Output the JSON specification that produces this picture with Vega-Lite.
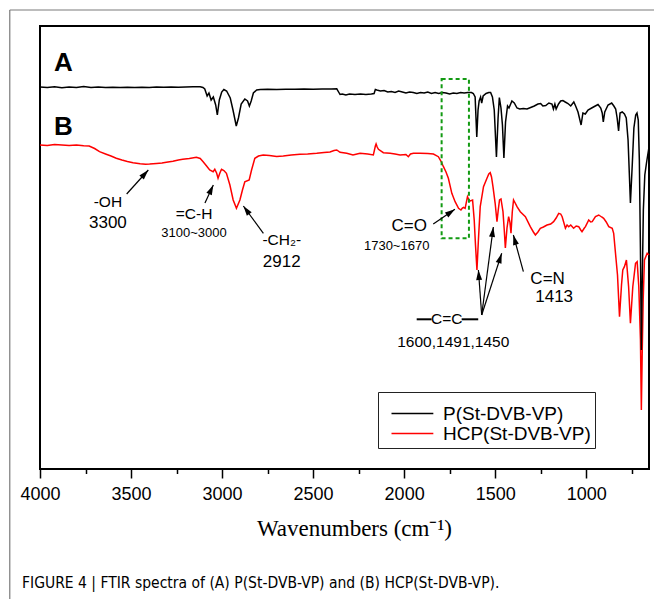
{
  "$schema": "https://vega.github.io/schema/vega-lite/v6.json",
  "width": 609,
  "height": 443,
  "autosize": {"type": "none"},
  "padding": {"left": 40, "top": 26, "right": 5, "bottom": 130},
  "config": {
    "view": {"stroke": "black", "strokeWidth": 2},
    "font": "Liberation Sans",
    "text": {"font": "Liberation Sans", "color": "black"}
  },
  "title": {
    "text": "FIGURE 4 | FTIR spectra of (A) P(St-DVB-VP) and (B) HCP(St-DVB-VP).",
    "orient": "bottom",
    "anchor": "start",
    "frame": "group",
    "offset": -24,
    "dx": -18,
    "font": "Liberation Sans Narrow, DejaVu Sans Condensed, sans-serif",
    "fontSize": 15.5,
    "fontWeight": "normal",
    "color": "black"
  },
  "datasets": {
    "spectra": [
      {"series":"HCP(St-DVB-VP)","wn":4000,"t":145},{"series":"HCP(St-DVB-VP)","wn":3960,"t":145.5},{"series":"HCP(St-DVB-VP)","wn":3920,"t":144.5},{"series":"HCP(St-DVB-VP)","wn":3880,"t":145},{"series":"HCP(St-DVB-VP)","wn":3840,"t":145.5},{"series":"HCP(St-DVB-VP)","wn":3800,"t":145},{"series":"HCP(St-DVB-VP)","wn":3760,"t":145.8},{"series":"HCP(St-DVB-VP)","wn":3730,"t":146},{"series":"HCP(St-DVB-VP)","wn":3700,"t":148.5},{"series":"HCP(St-DVB-VP)","wn":3673,"t":151.7},{"series":"HCP(St-DVB-VP)","wn":3640,"t":154},{"series":"HCP(St-DVB-VP)","wn":3610,"t":156},{"series":"HCP(St-DVB-VP)","wn":3581,"t":158.3},{"series":"HCP(St-DVB-VP)","wn":3550,"t":160},{"series":"HCP(St-DVB-VP)","wn":3520,"t":161.5},{"series":"HCP(St-DVB-VP)","wn":3489,"t":162.7},{"series":"HCP(St-DVB-VP)","wn":3450,"t":163.8},{"series":"HCP(St-DVB-VP)","wn":3420,"t":164.2},{"series":"HCP(St-DVB-VP)","wn":3398,"t":164},{"series":"HCP(St-DVB-VP)","wn":3360,"t":163.5},{"series":"HCP(St-DVB-VP)","wn":3330,"t":163},{"series":"HCP(St-DVB-VP)","wn":3306,"t":162.3},{"series":"HCP(St-DVB-VP)","wn":3270,"t":161.2},{"series":"HCP(St-DVB-VP)","wn":3240,"t":160},{"series":"HCP(St-DVB-VP)","wn":3216,"t":159.3},{"series":"HCP(St-DVB-VP)","wn":3180,"t":158.5},{"series":"HCP(St-DVB-VP)","wn":3141,"t":157.3},{"series":"HCP(St-DVB-VP)","wn":3120,"t":158.5},{"series":"HCP(St-DVB-VP)","wn":3104,"t":161.7},{"series":"HCP(St-DVB-VP)","wn":3085,"t":166},{"series":"HCP(St-DVB-VP)","wn":3068,"t":170},{"series":"HCP(St-DVB-VP)","wn":3049,"t":171.7},{"series":"HCP(St-DVB-VP)","wn":3040,"t":169.3},{"series":"HCP(St-DVB-VP)","wn":3030,"t":173},{"series":"HCP(St-DVB-VP)","wn":3022,"t":178.3},{"series":"HCP(St-DVB-VP)","wn":3012,"t":173},{"series":"HCP(St-DVB-VP)","wn":3003,"t":169.3},{"series":"HCP(St-DVB-VP)","wn":2990,"t":170.5},{"series":"HCP(St-DVB-VP)","wn":2976,"t":173.3},{"series":"HCP(St-DVB-VP)","wn":2957,"t":185},{"series":"HCP(St-DVB-VP)","wn":2939,"t":200},{"series":"HCP(St-DVB-VP)","wn":2921,"t":208.3},{"series":"HCP(St-DVB-VP)","wn":2902,"t":200},{"series":"HCP(St-DVB-VP)","wn":2888,"t":190},{"series":"HCP(St-DVB-VP)","wn":2875,"t":181.7},{"series":"HCP(St-DVB-VP)","wn":2851,"t":180},{"series":"HCP(St-DVB-VP)","wn":2838,"t":170},{"series":"HCP(St-DVB-VP)","wn":2820,"t":158.3},{"series":"HCP(St-DVB-VP)","wn":2800,"t":156},{"series":"HCP(St-DVB-VP)","wn":2774,"t":155},{"series":"HCP(St-DVB-VP)","wn":2740,"t":155.5},{"series":"HCP(St-DVB-VP)","wn":2700,"t":156.5},{"series":"HCP(St-DVB-VP)","wn":2664,"t":156},{"series":"HCP(St-DVB-VP)","wn":2620,"t":155},{"series":"HCP(St-DVB-VP)","wn":2572,"t":154.3},{"series":"HCP(St-DVB-VP)","wn":2530,"t":154},{"series":"HCP(St-DVB-VP)","wn":2480,"t":153.3},{"series":"HCP(St-DVB-VP)","wn":2440,"t":152.5},{"series":"HCP(St-DVB-VP)","wn":2407,"t":152},{"series":"HCP(St-DVB-VP)","wn":2385,"t":150.5},{"series":"HCP(St-DVB-VP)","wn":2370,"t":150},{"series":"HCP(St-DVB-VP)","wn":2352,"t":152.3},{"series":"HCP(St-DVB-VP)","wn":2315,"t":153.3},{"series":"HCP(St-DVB-VP)","wn":2281,"t":155},{"series":"HCP(St-DVB-VP)","wn":2242,"t":153.3},{"series":"HCP(St-DVB-VP)","wn":2200,"t":154},{"series":"HCP(St-DVB-VP)","wn":2169,"t":155},{"series":"HCP(St-DVB-VP)","wn":2158,"t":146},{"series":"HCP(St-DVB-VP)","wn":2154,"t":144},{"series":"HCP(St-DVB-VP)","wn":2148,"t":147},{"series":"HCP(St-DVB-VP)","wn":2141,"t":149.3},{"series":"HCP(St-DVB-VP)","wn":2114,"t":152.7},{"series":"HCP(St-DVB-VP)","wn":2077,"t":153.3},{"series":"HCP(St-DVB-VP)","wn":2050,"t":154},{"series":"HCP(St-DVB-VP)","wn":2022,"t":155},{"series":"HCP(St-DVB-VP)","wn":1990,"t":154.5},{"series":"HCP(St-DVB-VP)","wn":1977,"t":156.7},{"series":"HCP(St-DVB-VP)","wn":1965,"t":154},{"series":"HCP(St-DVB-VP)","wn":1949,"t":153.3},{"series":"HCP(St-DVB-VP)","wn":1912,"t":153.3},{"series":"HCP(St-DVB-VP)","wn":1870,"t":153.5},{"series":"HCP(St-DVB-VP)","wn":1839,"t":154},{"series":"HCP(St-DVB-VP)","wn":1812,"t":156.7},{"series":"HCP(St-DVB-VP)","wn":1798,"t":161},{"series":"HCP(St-DVB-VP)","wn":1784,"t":166.7},{"series":"HCP(St-DVB-VP)","wn":1770,"t":172},{"series":"HCP(St-DVB-VP)","wn":1757,"t":178.3},{"series":"HCP(St-DVB-VP)","wn":1738,"t":193.3},{"series":"HCP(St-DVB-VP)","wn":1720,"t":201.7},{"series":"HCP(St-DVB-VP)","wn":1701,"t":208.3},{"series":"HCP(St-DVB-VP)","wn":1688,"t":210},{"series":"HCP(St-DVB-VP)","wn":1680,"t":208},{"series":"HCP(St-DVB-VP)","wn":1674,"t":207.3},{"series":"HCP(St-DVB-VP)","wn":1665,"t":208.3},{"series":"HCP(St-DVB-VP)","wn":1652,"t":196.7},{"series":"HCP(St-DVB-VP)","wn":1644,"t":200},{"series":"HCP(St-DVB-VP)","wn":1637,"t":201},{"series":"HCP(St-DVB-VP)","wn":1624,"t":200},{"series":"HCP(St-DVB-VP)","wn":1615,"t":220},{"series":"HCP(St-DVB-VP)","wn":1608,"t":245},{"series":"HCP(St-DVB-VP)","wn":1600,"t":270},{"series":"HCP(St-DVB-VP)","wn":1592,"t":240},{"series":"HCP(St-DVB-VP)","wn":1582,"t":206.7},{"series":"HCP(St-DVB-VP)","wn":1564,"t":186.7},{"series":"HCP(St-DVB-VP)","wn":1545,"t":178.3},{"series":"HCP(St-DVB-VP)","wn":1535,"t":174},{"series":"HCP(St-DVB-VP)","wn":1527,"t":172.7},{"series":"HCP(St-DVB-VP)","wn":1520,"t":177},{"series":"HCP(St-DVB-VP)","wn":1512,"t":186.7},{"series":"HCP(St-DVB-VP)","wn":1500,"t":203.3},{"series":"HCP(St-DVB-VP)","wn":1490,"t":221.7},{"series":"HCP(St-DVB-VP)","wn":1483,"t":210},{"series":"HCP(St-DVB-VP)","wn":1476,"t":200},{"series":"HCP(St-DVB-VP)","wn":1468,"t":199},{"series":"HCP(St-DVB-VP)","wn":1457,"t":211.7},{"series":"HCP(St-DVB-VP)","wn":1450,"t":230},{"series":"HCP(St-DVB-VP)","wn":1444,"t":248},{"series":"HCP(St-DVB-VP)","wn":1435,"t":228},{"series":"HCP(St-DVB-VP)","wn":1426,"t":216.7},{"series":"HCP(St-DVB-VP)","wn":1419,"t":222},{"series":"HCP(St-DVB-VP)","wn":1413,"t":233.3},{"series":"HCP(St-DVB-VP)","wn":1406,"t":212},{"series":"HCP(St-DVB-VP)","wn":1399,"t":200},{"series":"HCP(St-DVB-VP)","wn":1390,"t":203},{"series":"HCP(St-DVB-VP)","wn":1380,"t":206.7},{"series":"HCP(St-DVB-VP)","wn":1362,"t":211.7},{"series":"HCP(St-DVB-VP)","wn":1334,"t":216.7},{"series":"HCP(St-DVB-VP)","wn":1307,"t":226.7},{"series":"HCP(St-DVB-VP)","wn":1290,"t":232},{"series":"HCP(St-DVB-VP)","wn":1279,"t":235},{"series":"HCP(St-DVB-VP)","wn":1265,"t":232},{"series":"HCP(St-DVB-VP)","wn":1252,"t":228.3},{"series":"HCP(St-DVB-VP)","wn":1235,"t":227},{"series":"HCP(St-DVB-VP)","wn":1215,"t":225},{"series":"HCP(St-DVB-VP)","wn":1195,"t":224},{"series":"HCP(St-DVB-VP)","wn":1179,"t":221.7},{"series":"HCP(St-DVB-VP)","wn":1165,"t":218},{"series":"HCP(St-DVB-VP)","wn":1151,"t":213.3},{"series":"HCP(St-DVB-VP)","wn":1140,"t":214},{"series":"HCP(St-DVB-VP)","wn":1132,"t":216.7},{"series":"HCP(St-DVB-VP)","wn":1114,"t":228.3},{"series":"HCP(St-DVB-VP)","wn":1105,"t":225},{"series":"HCP(St-DVB-VP)","wn":1096,"t":226.7},{"series":"HCP(St-DVB-VP)","wn":1085,"t":225},{"series":"HCP(St-DVB-VP)","wn":1069,"t":228.3},{"series":"HCP(St-DVB-VP)","wn":1055,"t":226},{"series":"HCP(St-DVB-VP)","wn":1041,"t":226.7},{"series":"HCP(St-DVB-VP)","wn":1030,"t":230},{"series":"HCP(St-DVB-VP)","wn":1023,"t":231.7},{"series":"HCP(St-DVB-VP)","wn":1010,"t":228},{"series":"HCP(St-DVB-VP)","wn":1004,"t":226.7},{"series":"HCP(St-DVB-VP)","wn":986,"t":220},{"series":"HCP(St-DVB-VP)","wn":975,"t":222},{"series":"HCP(St-DVB-VP)","wn":967,"t":221.7},{"series":"HCP(St-DVB-VP)","wn":949,"t":216.7},{"series":"HCP(St-DVB-VP)","wn":931,"t":215},{"series":"HCP(St-DVB-VP)","wn":915,"t":217},{"series":"HCP(St-DVB-VP)","wn":904,"t":218.3},{"series":"HCP(St-DVB-VP)","wn":890,"t":222},{"series":"HCP(St-DVB-VP)","wn":876,"t":226.7},{"series":"HCP(St-DVB-VP)","wn":857,"t":228.3},{"series":"HCP(St-DVB-VP)","wn":849,"t":233.3},{"series":"HCP(St-DVB-VP)","wn":839,"t":253.3},{"series":"HCP(St-DVB-VP)","wn":828,"t":275},{"series":"HCP(St-DVB-VP)","wn":817,"t":316.7},{"series":"HCP(St-DVB-VP)","wn":806,"t":285},{"series":"HCP(St-DVB-VP)","wn":799,"t":270},{"series":"HCP(St-DVB-VP)","wn":790,"t":266.7},{"series":"HCP(St-DVB-VP)","wn":779,"t":260},{"series":"HCP(St-DVB-VP)","wn":767,"t":286.7},{"series":"HCP(St-DVB-VP)","wn":757,"t":323.3},{"series":"HCP(St-DVB-VP)","wn":744,"t":286.7},{"series":"HCP(St-DVB-VP)","wn":729,"t":263.3},{"series":"HCP(St-DVB-VP)","wn":720,"t":261.7},{"series":"HCP(St-DVB-VP)","wn":711,"t":286.7},{"series":"HCP(St-DVB-VP)","wn":702,"t":340},{"series":"HCP(St-DVB-VP)","wn":697,"t":410},{"series":"HCP(St-DVB-VP)","wn":692,"t":350},{"series":"HCP(St-DVB-VP)","wn":687,"t":300},{"series":"HCP(St-DVB-VP)","wn":680,"t":260},{"series":"HCP(St-DVB-VP)","wn":665,"t":253.3},{"series":"HCP(St-DVB-VP)","wn":655,"t":255},
      {"series":"P(St-DVB-VP)","wn":4000,"t":87},{"series":"P(St-DVB-VP)","wn":3960,"t":87.6},{"series":"P(St-DVB-VP)","wn":3920,"t":86.8},{"series":"P(St-DVB-VP)","wn":3880,"t":87.8},{"series":"P(St-DVB-VP)","wn":3840,"t":87},{"series":"P(St-DVB-VP)","wn":3800,"t":87.5},{"series":"P(St-DVB-VP)","wn":3760,"t":86.6},{"series":"P(St-DVB-VP)","wn":3720,"t":87.4},{"series":"P(St-DVB-VP)","wn":3680,"t":87},{"series":"P(St-DVB-VP)","wn":3640,"t":87.6},{"series":"P(St-DVB-VP)","wn":3600,"t":87.2},{"series":"P(St-DVB-VP)","wn":3560,"t":87.5},{"series":"P(St-DVB-VP)","wn":3520,"t":87.3},{"series":"P(St-DVB-VP)","wn":3480,"t":87.6},{"series":"P(St-DVB-VP)","wn":3440,"t":87.2},{"series":"P(St-DVB-VP)","wn":3400,"t":87.4},{"series":"P(St-DVB-VP)","wn":3360,"t":87.1},{"series":"P(St-DVB-VP)","wn":3320,"t":87.3},{"series":"P(St-DVB-VP)","wn":3280,"t":87},{"series":"P(St-DVB-VP)","wn":3240,"t":87.2},{"series":"P(St-DVB-VP)","wn":3200,"t":87},{"series":"P(St-DVB-VP)","wn":3160,"t":86.8},{"series":"P(St-DVB-VP)","wn":3120,"t":86.8},{"series":"P(St-DVB-VP)","wn":3105,"t":87.5},{"series":"P(St-DVB-VP)","wn":3095,"t":89},{"series":"P(St-DVB-VP)","wn":3082,"t":96},{"series":"P(St-DVB-VP)","wn":3072,"t":93},{"series":"P(St-DVB-VP)","wn":3060,"t":100},{"series":"P(St-DVB-VP)","wn":3048,"t":97},{"series":"P(St-DVB-VP)","wn":3035,"t":105},{"series":"P(St-DVB-VP)","wn":3026,"t":115},{"series":"P(St-DVB-VP)","wn":3015,"t":100},{"series":"P(St-DVB-VP)","wn":3002,"t":92},{"series":"P(St-DVB-VP)","wn":2990,"t":89.5},{"series":"P(St-DVB-VP)","wn":2975,"t":91},{"series":"P(St-DVB-VP)","wn":2955,"t":98},{"series":"P(St-DVB-VP)","wn":2940,"t":110},{"series":"P(St-DVB-VP)","wn":2922,"t":126},{"series":"P(St-DVB-VP)","wn":2910,"t":118},{"series":"P(St-DVB-VP)","wn":2895,"t":104},{"series":"P(St-DVB-VP)","wn":2875,"t":99},{"series":"P(St-DVB-VP)","wn":2860,"t":101},{"series":"P(St-DVB-VP)","wn":2850,"t":106},{"series":"P(St-DVB-VP)","wn":2840,"t":101},{"series":"P(St-DVB-VP)","wn":2828,"t":93},{"series":"P(St-DVB-VP)","wn":2810,"t":90},{"series":"P(St-DVB-VP)","wn":2790,"t":89.5},{"series":"P(St-DVB-VP)","wn":2750,"t":89.3},{"series":"P(St-DVB-VP)","wn":2700,"t":89.4},{"series":"P(St-DVB-VP)","wn":2650,"t":89.2},{"series":"P(St-DVB-VP)","wn":2600,"t":89.3},{"series":"P(St-DVB-VP)","wn":2550,"t":89.1},{"series":"P(St-DVB-VP)","wn":2500,"t":89.2},{"series":"P(St-DVB-VP)","wn":2450,"t":89},{"series":"P(St-DVB-VP)","wn":2400,"t":89},{"series":"P(St-DVB-VP)","wn":2370,"t":88.8},{"series":"P(St-DVB-VP)","wn":2360,"t":92},{"series":"P(St-DVB-VP)","wn":2352,"t":94.5},{"series":"P(St-DVB-VP)","wn":2340,"t":94},{"series":"P(St-DVB-VP)","wn":2320,"t":95},{"series":"P(St-DVB-VP)","wn":2300,"t":94},{"series":"P(St-DVB-VP)","wn":2270,"t":94.5},{"series":"P(St-DVB-VP)","wn":2240,"t":94},{"series":"P(St-DVB-VP)","wn":2210,"t":94.5},{"series":"P(St-DVB-VP)","wn":2180,"t":94},{"series":"P(St-DVB-VP)","wn":2165,"t":93.5},{"series":"P(St-DVB-VP)","wn":2158,"t":89.5},{"series":"P(St-DVB-VP)","wn":2150,"t":90},{"series":"P(St-DVB-VP)","wn":2130,"t":91},{"series":"P(St-DVB-VP)","wn":2110,"t":90.5},{"series":"P(St-DVB-VP)","wn":2090,"t":92},{"series":"P(St-DVB-VP)","wn":2070,"t":91.5},{"series":"P(St-DVB-VP)","wn":2050,"t":92.5},{"series":"P(St-DVB-VP)","wn":2030,"t":91},{"series":"P(St-DVB-VP)","wn":2010,"t":92},{"series":"P(St-DVB-VP)","wn":1990,"t":93},{"series":"P(St-DVB-VP)","wn":1970,"t":92},{"series":"P(St-DVB-VP)","wn":1950,"t":92.5},{"series":"P(St-DVB-VP)","wn":1930,"t":93.5},{"series":"P(St-DVB-VP)","wn":1910,"t":92.5},{"series":"P(St-DVB-VP)","wn":1890,"t":93},{"series":"P(St-DVB-VP)","wn":1870,"t":92},{"series":"P(St-DVB-VP)","wn":1850,"t":93.5},{"series":"P(St-DVB-VP)","wn":1830,"t":92.5},{"series":"P(St-DVB-VP)","wn":1810,"t":93.5},{"series":"P(St-DVB-VP)","wn":1790,"t":92.5},{"series":"P(St-DVB-VP)","wn":1770,"t":93},{"series":"P(St-DVB-VP)","wn":1750,"t":94},{"series":"P(St-DVB-VP)","wn":1730,"t":93},{"series":"P(St-DVB-VP)","wn":1710,"t":93.5},{"series":"P(St-DVB-VP)","wn":1690,"t":92.5},{"series":"P(St-DVB-VP)","wn":1670,"t":93},{"series":"P(St-DVB-VP)","wn":1650,"t":92.5},{"series":"P(St-DVB-VP)","wn":1630,"t":92.5},{"series":"P(St-DVB-VP)","wn":1620,"t":93.5},{"series":"P(St-DVB-VP)","wn":1610,"t":97},{"series":"P(St-DVB-VP)","wn":1601,"t":137},{"series":"P(St-DVB-VP)","wn":1594,"t":110},{"series":"P(St-DVB-VP)","wn":1588,"t":101},{"series":"P(St-DVB-VP)","wn":1580,"t":97},{"series":"P(St-DVB-VP)","wn":1574,"t":103},{"series":"P(St-DVB-VP)","wn":1566,"t":96},{"series":"P(St-DVB-VP)","wn":1550,"t":93.5},{"series":"P(St-DVB-VP)","wn":1535,"t":92.5},{"series":"P(St-DVB-VP)","wn":1525,"t":92.5},{"series":"P(St-DVB-VP)","wn":1515,"t":97},{"series":"P(St-DVB-VP)","wn":1505,"t":110},{"series":"P(St-DVB-VP)","wn":1493,"t":157},{"series":"P(St-DVB-VP)","wn":1484,"t":118},{"series":"P(St-DVB-VP)","wn":1477,"t":97.5},{"series":"P(St-DVB-VP)","wn":1468,"t":108},{"series":"P(St-DVB-VP)","wn":1460,"t":125},{"series":"P(St-DVB-VP)","wn":1452,"t":158},{"series":"P(St-DVB-VP)","wn":1443,"t":122},{"series":"P(St-DVB-VP)","wn":1432,"t":106},{"series":"P(St-DVB-VP)","wn":1424,"t":108},{"series":"P(St-DVB-VP)","wn":1408,"t":101},{"series":"P(St-DVB-VP)","wn":1395,"t":103},{"series":"P(St-DVB-VP)","wn":1380,"t":108},{"series":"P(St-DVB-VP)","wn":1365,"t":109},{"series":"P(St-DVB-VP)","wn":1345,"t":108.5},{"series":"P(St-DVB-VP)","wn":1325,"t":109},{"series":"P(St-DVB-VP)","wn":1305,"t":107.5},{"series":"P(St-DVB-VP)","wn":1285,"t":106},{"series":"P(St-DVB-VP)","wn":1265,"t":104},{"series":"P(St-DVB-VP)","wn":1250,"t":103.5},{"series":"P(St-DVB-VP)","wn":1238,"t":106},{"series":"P(St-DVB-VP)","wn":1222,"t":105.5},{"series":"P(St-DVB-VP)","wn":1205,"t":103},{"series":"P(St-DVB-VP)","wn":1188,"t":104},{"series":"P(St-DVB-VP)","wn":1180,"t":109},{"series":"P(St-DVB-VP)","wn":1172,"t":104},{"series":"P(St-DVB-VP)","wn":1165,"t":109},{"series":"P(St-DVB-VP)","wn":1152,"t":104},{"series":"P(St-DVB-VP)","wn":1140,"t":101},{"series":"P(St-DVB-VP)","wn":1128,"t":100.5},{"series":"P(St-DVB-VP)","wn":1115,"t":102},{"series":"P(St-DVB-VP)","wn":1100,"t":103.5},{"series":"P(St-DVB-VP)","wn":1085,"t":106},{"series":"P(St-DVB-VP)","wn":1068,"t":102},{"series":"P(St-DVB-VP)","wn":1058,"t":106},{"series":"P(St-DVB-VP)","wn":1045,"t":112},{"series":"P(St-DVB-VP)","wn":1028,"t":125},{"series":"P(St-DVB-VP)","wn":1018,"t":113},{"series":"P(St-DVB-VP)","wn":1005,"t":114},{"series":"P(St-DVB-VP)","wn":990,"t":110},{"series":"P(St-DVB-VP)","wn":970,"t":108},{"series":"P(St-DVB-VP)","wn":950,"t":106},{"series":"P(St-DVB-VP)","wn":935,"t":104.5},{"series":"P(St-DVB-VP)","wn":920,"t":108},{"series":"P(St-DVB-VP)","wn":912,"t":113},{"series":"P(St-DVB-VP)","wn":906,"t":122},{"series":"P(St-DVB-VP)","wn":898,"t":112},{"series":"P(St-DVB-VP)","wn":880,"t":105},{"series":"P(St-DVB-VP)","wn":860,"t":103},{"series":"P(St-DVB-VP)","wn":848,"t":106},{"series":"P(St-DVB-VP)","wn":838,"t":109},{"series":"P(St-DVB-VP)","wn":830,"t":118},{"series":"P(St-DVB-VP)","wn":822,"t":131},{"series":"P(St-DVB-VP)","wn":814,"t":113},{"series":"P(St-DVB-VP)","wn":802,"t":112},{"series":"P(St-DVB-VP)","wn":790,"t":114},{"series":"P(St-DVB-VP)","wn":780,"t":118},{"series":"P(St-DVB-VP)","wn":770,"t":140},{"series":"P(St-DVB-VP)","wn":757,"t":203},{"series":"P(St-DVB-VP)","wn":747,"t":165},{"series":"P(St-DVB-VP)","wn":738,"t":128},{"series":"P(St-DVB-VP)","wn":728,"t":115},{"series":"P(St-DVB-VP)","wn":721,"t":113},{"series":"P(St-DVB-VP)","wn":714,"t":120},{"series":"P(St-DVB-VP)","wn":708,"t":160},{"series":"P(St-DVB-VP)","wn":702,"t":250},{"series":"P(St-DVB-VP)","wn":697,"t":350},{"series":"P(St-DVB-VP)","wn":692,"t":280},{"series":"P(St-DVB-VP)","wn":686,"t":210},{"series":"P(St-DVB-VP)","wn":678,"t":175},{"series":"P(St-DVB-VP)","wn":668,"t":162},{"series":"P(St-DVB-VP)","wn":655,"t":147}
    ],
    "notes": [
      {"label":"A","wn":3871,"t":63,"role":"panel"},
      {"label":"B","wn":3871,"t":127,"role":"panel"},
      {"label":"-OH","wn":3627,"t":202,"role":"group"},
      {"label":"=C-H","wn":3154,"t":214,"role":"group"},
      {"label":"-CH₂-","wn":2672,"t":240,"role":"group"},
      {"label":"C=C","wn":1766,"t":319.2,"role":"group"},
      {"label":"C=O","wn":1972,"t":226,"role":"bond"},
      {"label":"C=N","wn":1212,"t":279.2,"role":"bond"},
      {"label":"3300","wn":3627,"t":223.3,"role":"peak"},
      {"label":"2912","wn":2672,"t":261.5,"role":"peak"},
      {"label":"1413","wn":1176,"t":297,"role":"peak"},
      {"label":"1600,1491,1450","wn":1730,"t":341.7,"role":"peaklist"},
      {"label":"3100~3000","wn":3154,"t":233.3,"role":"range"},
      {"label":"1730~1670","wn":2041,"t":246.2,"role":"range"}
    ],
    "arrows": [
      {"wn":3524,"t":194,"wn2":3405,"t2":170},
      {"wn":3094,"t":203,"wn2":3048,"t2":185},
      {"wn":2773,"t":233.3,"wn2":2883,"t2":206},
      {"wn":1840,"t":224,"wn2":1721,"t2":209.3},
      {"wn":1574,"t":315,"wn2":1592,"t2":270},
      {"wn":1574,"t":315,"wn2":1510,"t2":227},
      {"wn":1574,"t":315,"wn2":1464,"t2":253.3},
      {"wn":1345,"t":271.7,"wn2":1400,"t2":235}
    ],
    "bonds": [
      {"wn":1931,"wn2":1849,"t":319.3},
      {"wn":1684,"wn2":1593,"t":319.3}
    ],
    "region": [
      {"wn":1794,"wn2":1644,"t":79,"t2":238.3}
    ],
    "pageframe": [
      {"wn":4166,"wn2":4166,"t":10,"t2":599},
      {"wn":4166,"wn2":600,"t":10,"t2":10}
    ]
  },
  "layer": [
    {
      "data": {"name": "pageframe"},
      "mark": {"type": "rule", "color": "#7a7a7a", "strokeWidth": 1.2},
      "encoding": {
        "x": {"field": "wn", "type": "quantitative", "axis": null},
        "x2": {"field": "wn2"},
        "y": {"field": "t", "type": "quantitative", "axis": null},
        "y2": {"field": "t2"}
      }
    },
    {
      "data": {"name": "spectra"},
      "mark": {"type": "line", "strokeWidth": 1.5},
      "encoding": {
        "x": {"field": "wn", "type": "quantitative",
          "scale": {"domain": [655, 4000], "reverse": true, "nice": false, "zero": false},
          "axis": {"orient": "bottom", "values": [4000,3500,3000,2500,2000,1500,1000], "format": "d",
            "tickSize": 9, "tickWidth": 1.5, "tickColor": "black", "domain": false, "grid": false,
            "labelFlush": false, "labelOverlap": false,
            "labelFontSize": 18, "labelColor": "black", "labelPadding": 7, "labelFont": "Liberation Sans",
            "title": "Wavenumbers (cm⁻¹)", "titleFont": "Liberation Serif", "titleFontSize": 23,
            "titleFontWeight": "normal", "titleColor": "black", "titleX": 314, "titleY": 66,
            "titleBaseline": "alphabetic", "titleAlign": "center"}},
        "y": {"field": "t", "type": "quantitative",
          "scale": {"domain": [26, 469], "reverse": true, "nice": false, "zero": false}, "axis": null},
        "color": {"field": "series", "type": "nominal",
          "scale": {"domain": ["P(St-DVB-VP)", "HCP(St-DVB-VP)"], "range": ["#000000", "#ff0000"]},
          "legend": {"orient": "none", "legendX": 338, "legendY": 366, "direction": "vertical",
            "title": " ", "titleFontSize": 8, "titlePadding": 0,
            "symbolType": "M0,0H10", "symbolSize": 70, "symbolStrokeWidth": 1.5,
            "labelFontSize": 19, "labelColor": "black", "labelFont": "Liberation Sans", "labelOffset": 42, "labelLimit": 300,
            "rowPadding": -2, "padding": 4, "strokeColor": "#222222"}}
      }
    },
    {
      "data": {"name": "region"},
      "mark": {"type": "rect", "fill": null, "fillOpacity": 0, "stroke": "#129a12", "strokeWidth": 2, "strokeDash": [4, 3]},
      "encoding": {
        "x": {"field": "wn", "type": "quantitative",
          "axis": {"orient": "bottom", "values": [3750,3250,2750,2250,1750,1250,750], "labels": false,
            "tickSize": 4.5, "tickWidth": 1.5, "tickColor": "black", "domain": false, "grid": false, "title": null}},
        "x2": {"field": "wn2"},
        "y": {"field": "t", "type": "quantitative", "axis": null},
        "y2": {"field": "t2"}
      }
    },
    {
      "data": {"name": "arrows"},
      "mark": {"type": "rule", "color": "black", "strokeWidth": 1.2},
      "encoding": {
        "x": {"field": "wn", "type": "quantitative", "axis": null},
        "x2": {"field": "wn2"},
        "y": {"field": "t", "type": "quantitative", "axis": null},
        "y2": {"field": "t2"}
      }
    },
    {
      "data": {"name": "arrows"},
      "transform": [{"calculate": "atan2((datum.wn - datum.wn2) * 0.18206, datum.t - datum.t2) * 180 / PI", "as": "heading"}],
      "mark": {"type": "point", "shape": "M0,0L0.3,1L-0.3,1Z", "filled": true, "size": 400, "color": "black", "opacity": 1, "strokeWidth": 0},
      "encoding": {
        "x": {"field": "wn2", "type": "quantitative", "axis": null},
        "y": {"field": "t2", "type": "quantitative", "axis": null},
        "angle": {"field": "heading", "type": "quantitative", "scale": null}
      }
    },
    {
      "data": {"name": "bonds"},
      "mark": {"type": "rule", "color": "black", "strokeWidth": 2},
      "encoding": {
        "x": {"field": "wn", "type": "quantitative", "axis": null},
        "x2": {"field": "wn2"},
        "y": {"field": "t", "type": "quantitative", "axis": null}
      }
    },
    {
      "data": {"name": "notes"},
      "transform": [{"filter": "datum.role === 'panel'"}],
      "mark": {"type": "text", "fontSize": 26, "fontWeight": "bold", "align": "center", "baseline": "middle"},
      "encoding": {
        "x": {"field": "wn", "type": "quantitative", "axis": null},
        "y": {"field": "t", "type": "quantitative", "axis": null},
        "text": {"field": "label"}
      }
    },
    {
      "data": {"name": "notes"},
      "transform": [{"filter": "datum.role === 'group' || datum.role === 'peaklist'"}],
      "mark": {"type": "text", "fontSize": 15.5, "align": "center", "baseline": "middle"},
      "encoding": {
        "x": {"field": "wn", "type": "quantitative", "axis": null},
        "y": {"field": "t", "type": "quantitative", "axis": null},
        "text": {"field": "label"}
      }
    },
    {
      "data": {"name": "notes"},
      "transform": [{"filter": "datum.role === 'bond' || datum.role === 'peak'"}],
      "mark": {"type": "text", "fontSize": 17, "align": "center", "baseline": "middle"},
      "encoding": {
        "x": {"field": "wn", "type": "quantitative", "axis": null},
        "y": {"field": "t", "type": "quantitative", "axis": null},
        "text": {"field": "label"}
      }
    },
    {
      "data": {"name": "notes"},
      "transform": [{"filter": "datum.role === 'range'"}],
      "mark": {"type": "text", "fontSize": 13, "align": "center", "baseline": "middle"},
      "encoding": {
        "x": {"field": "wn", "type": "quantitative", "axis": null},
        "y": {"field": "t", "type": "quantitative", "axis": null},
        "text": {"field": "label"}
      }
    }
  ],
  "resolve": {"axis": {"x": "independent"}}
}
